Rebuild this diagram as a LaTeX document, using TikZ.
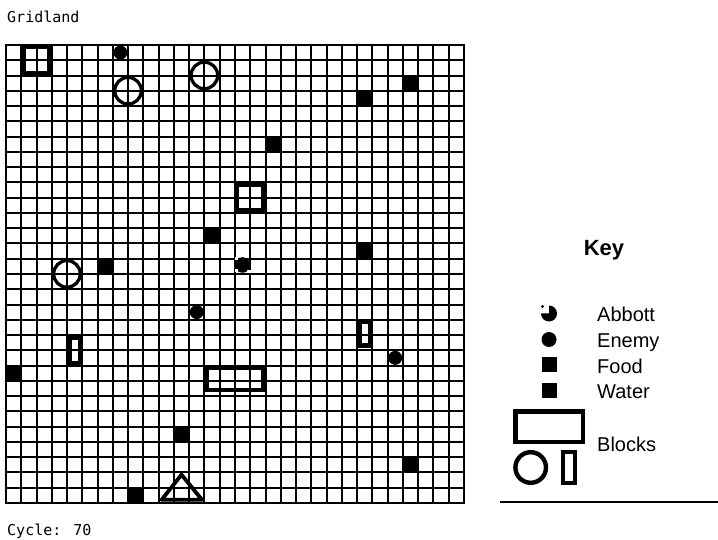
\documentclass[tikz,border=0pt]{standalone}
\usepackage{fontspec}
\newfontfamily\gridmono{DejaVu Sans Mono}
\newfontfamily\keysans{Liberation Sans}
\begin{document}
\begin{tikzpicture}[x=1pt,y=-1pt,
  gridline/.style={line width=1.8pt,black},
  blockline/.style={line width=4.6pt,black},
  ringline/.style={line width=3.3pt,black},
  keyline/.style={line width=4.4pt,black},
  monotext/.style={font=\gridmono\fontsize{15pt}{18pt}\selectfont, inner sep=0pt, anchor=base west},
  keytext/.style={font=\keysans\fontsize{20pt}{24pt}\selectfont, inner sep=0pt, anchor=base west},
]
\fill[white] (0,0) rectangle (718,540);
\useasboundingbox (0,0) rectangle (718,540);

% titles
\node[monotext] (title) at (7,23) {Gridland};
\node[monotext] (cycle) at (7,535) {Cycle: 70};

% grid lines snapped to whole pixels
\foreach \i in {0,...,30} {
  \pgfmathsetmacro\gx{round(5+15.2667*\i)+0.9}
  \pgfmathsetmacro\gy{round(44+15.2667*\i)+0.9}
  \draw[gridline] (\gx,44) -- (\gx,503.8);
  \draw[gridline] (5,\gy) -- (463.8,\gy);
}

\begin{scope}[shift={(5.9,44.9)},x=15.2667pt,y=-15.2667pt]
  % food / water
  \foreach \c/\r in {26/2,23/3,17/6,13/12,23/13,6/14,0/21,11/25,26/27,8/29}
    \fill (\c,\r) rectangle ++(1,1);
  % enemies
  \foreach \c/\r in {7/0,12/17,25/20}
    \fill (\c+0.5,\r+0.5) circle[radius=7pt];
  % round blocks
  \foreach \c/\r in {8/3,13/2,4/15}
    \draw[ringline] (\c,\r) circle[radius=13.3pt];
  % rectangular blocks
  \def\ins{0.15}
  \draw[blockline] (1+\ins,0+\ins) rectangle (3-\ins,2-\ins);
  \draw[blockline] (15+\ins,9+\ins) rectangle (17-\ins,11-\ins);
  \draw[blockline] (4+\ins,19+\ins) rectangle (5-\ins,21-\ins);
  \draw[blockline] (23+\ins,18+\ins) rectangle (24-\ins,19.85-\ins);
  \draw[blockline] (13+\ins,21+\ins) rectangle (17-\ins,22.75-\ins);
  % triangle
  \draw[line width=3.8pt,line join=round] (10.2,29.8) -- (11.5,28.15) -- (12.85,29.8) -- cycle;
\end{scope}

% Abbott in the grid
\fill (242.5,265) circle[radius=7.8pt];
\fill[white] (234.5,257.5) rectangle (237.5,260.5);
\fill[white] (234.5,269.5) rectangle (237.5,272.5);
\fill[white] (246.5,270) rectangle (250.5,273.5);

% key
\node[font=\keysans\bfseries\fontsize{22pt}{26pt}\selectfont, inner sep=0pt, anchor=base] (keytitle) at (604,256) {Key};
\fill (549,313.5) -- ++(0,-8) arc[start angle=-90, end angle=180, radius=8] -- cycle;
\fill (542.5,306.5) circle[radius=1.6pt];
\fill (549,339.5) circle[radius=7.5pt];
\fill (541.7,357) rectangle (557.3,371.7);
\fill (541.7,383) rectangle (557.3,397.7);
\draw[keyline] (515.5,411.5) rectangle (582.8,441.8);
\draw[keyline] (530.7,467.5) circle[radius=15.3pt];
\draw[keyline] (562.9,452.2) rectangle (575.1,482.8);
\node[keytext] (labA) at (597,322) {Abbott};
\node[keytext] (labE) at (597,347) {Enemy};
\node[keytext] (labF) at (597,373) {Food};
\node[keytext] (labW) at (597,398) {Water};
\node[keytext] (labB) at (597,451) {Blocks};
\coordinate (ruleL) at (500,501.7);
\coordinate (ruleR) at (718,501.7);
\draw[line width=2pt] (ruleL) -- (ruleR);
\end{tikzpicture}
\end{document}
